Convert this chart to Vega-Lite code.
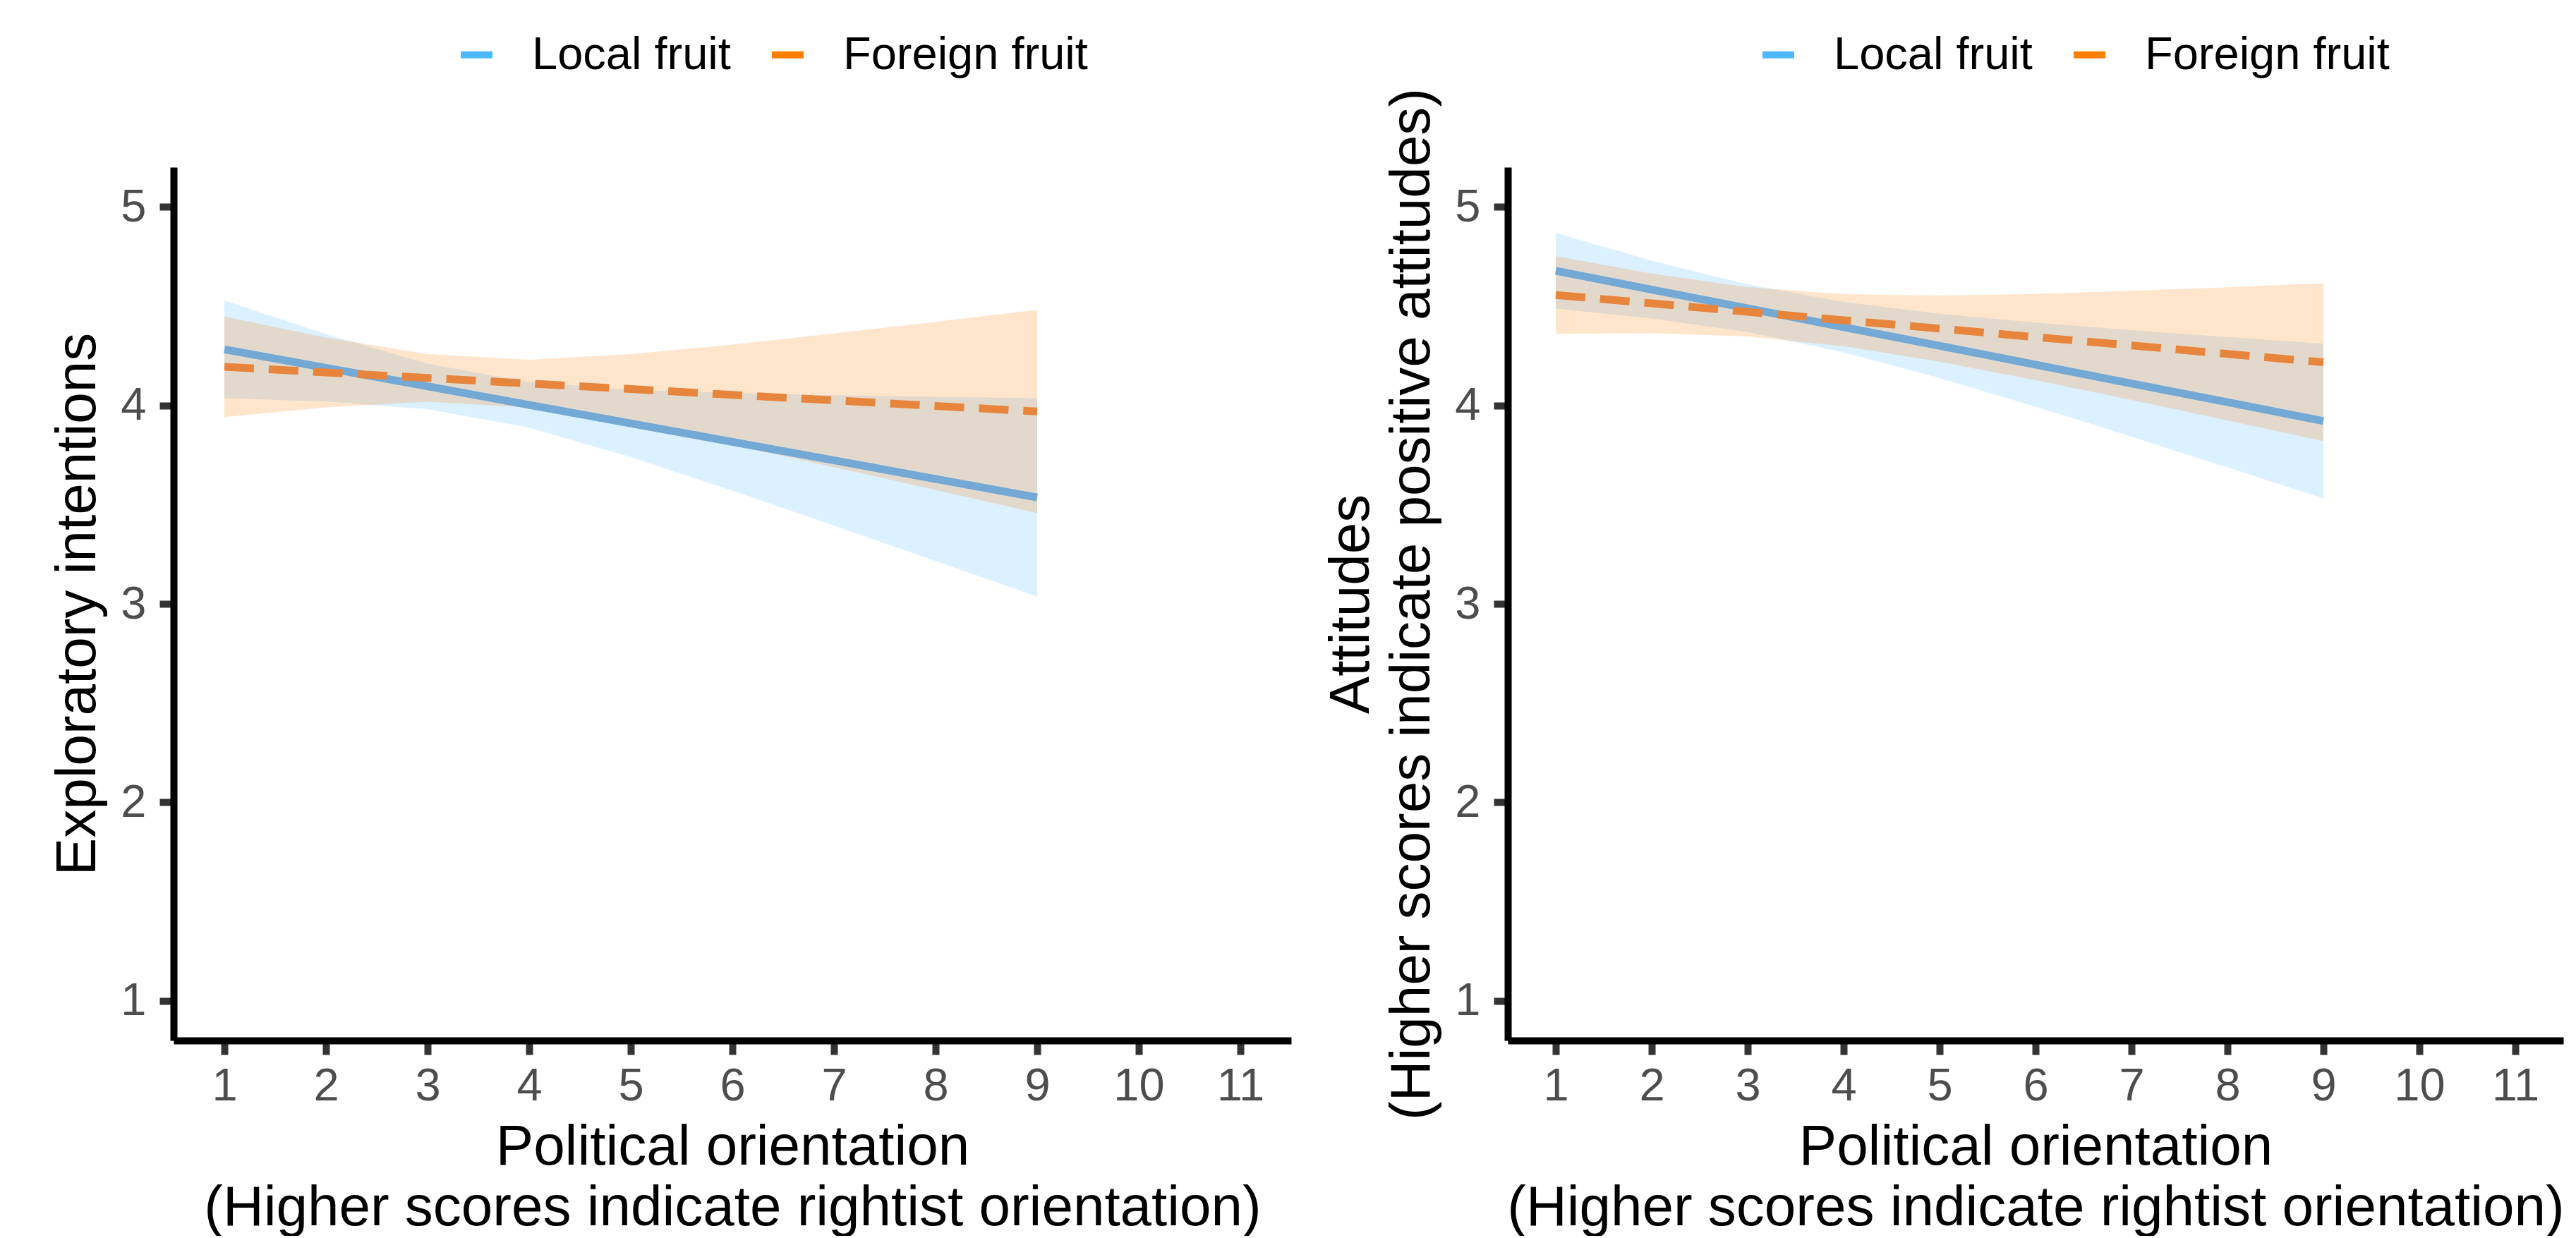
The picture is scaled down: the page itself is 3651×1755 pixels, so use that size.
{
  "$schema": "https://vega.github.io/schema/vega-lite/v6.json",
  "background": "white",
  "padding": {"left": 70, "top": 45, "right": 10, "bottom": 0},
  "config": {
    "font": "Liberation Sans",
    "view": {"stroke": null},
    "axis": {"grid": false, "domainColor": "#000000", "domainWidth": 10, "tickColor": "#333333", "tickWidth": 10, "tickSize": 20, "labelFontSize": 65, "labelColor": "#4D4D4D", "titleFontSize": 80, "titleFontWeight": "normal", "titleColor": "#000000", "labelFont": "Liberation Sans", "titleFont": "Liberation Sans"},
    "legend": {"title": null, "direction": "horizontal", "labelFontSize": 65, "labelLimit": 0, "labelColor": "#000000", "labelFont": "Liberation Sans", "symbolType": "M-1,-0.22L1,-0.22L1,0.22L-1,0.22Z", "symbolSize": 2025, "symbolStrokeWidth": 0, "labelOffset": 46, "columnPadding": 48, "padding": 0, "symbolOpacity": 1}
  },
  "spacing": 45,
  "resolve": {"scale": {"fill": "independent", "stroke": "independent", "strokeDash": "independent"}, "legend": {"fill": "independent"}},
  "hconcat": [
    {
      "width": 1584, "height": 1238,
      "data": {"values": [
        {"group": "Local fruit", "x": 1, "lo": 4.036, "hi": 4.528, "m": 4.282},
        {"group": "Local fruit", "x": 2, "lo": 4.019, "hi": 4.359, "m": 4.189},
        {"group": "Local fruit", "x": 3, "lo": 3.981, "hi": 4.210, "m": 4.096},
        {"group": "Local fruit", "x": 4, "lo": 3.888, "hi": 4.117, "m": 4.002},
        {"group": "Local fruit", "x": 5, "lo": 3.739, "hi": 4.079, "m": 3.909},
        {"group": "Local fruit", "x": 6, "lo": 3.570, "hi": 4.062, "m": 3.816},
        {"group": "Local fruit", "x": 7, "lo": 3.394, "hi": 4.051, "m": 3.723},
        {"group": "Local fruit", "x": 8, "lo": 3.216, "hi": 4.043, "m": 3.629},
        {"group": "Local fruit", "x": 9, "lo": 3.036, "hi": 4.036, "m": 3.536},
        {"group": "Foreign fruit", "x": 1, "lo": 3.941, "hi": 4.447, "m": 4.194},
        {"group": "Foreign fruit", "x": 2, "lo": 3.990, "hi": 4.342, "m": 4.166},
        {"group": "Foreign fruit", "x": 3, "lo": 4.018, "hi": 4.258, "m": 4.138},
        {"group": "Foreign fruit", "x": 4, "lo": 3.989, "hi": 4.230, "m": 4.110},
        {"group": "Foreign fruit", "x": 5, "lo": 3.906, "hi": 4.258, "m": 4.082},
        {"group": "Foreign fruit", "x": 6, "lo": 3.801, "hi": 4.306, "m": 4.053},
        {"group": "Foreign fruit", "x": 7, "lo": 3.689, "hi": 4.362, "m": 4.025},
        {"group": "Foreign fruit", "x": 8, "lo": 3.574, "hi": 4.421, "m": 3.997},
        {"group": "Foreign fruit", "x": 9, "lo": 3.457, "hi": 4.481, "m": 3.969}
      ]},
      "encoding": {
        "x": {"field": "x", "type": "quantitative", "scale": {"domain": [0.5, 11.5], "nice": false, "zero": false},
              "axis": {"values": [1,2,3,4,5,6,7,8,9,10,11], "title": ["Political orientation", "(Higher scores indicate rightist orientation)"], "labelPadding": 13, "titlePadding": 15, "titleLineHeight": 86}}
      },
      "layer": [
        {
          "mark": {"type": "area", "opacity": 0.2},
          "encoding": {
            "y": {"field": "lo", "type": "quantitative", "scale": {"domain": [0.8, 5.2], "nice": false, "zero": false},
                  "axis": {"values": [1,2,3,4,5], "title": "Exploratory intentions", "labelPadding": 19, "titlePadding": 19}},
            "y2": {"field": "hi"},
            "fill": {"field": "group", "type": "nominal", "sort": ["Local fruit", "Foreign fruit"],
                     "scale": {"domain": ["Local fruit", "Foreign fruit"], "range": ["#4DB8FF", "#FF7F00"]},
                     "legend": {"orient": "none", "legendX": 397, "legendY": -192, "encode": {"symbols": {"update": {"opacity": {"value": 1}, "fillOpacity": {"value": 1}}}}}}
          }
        },
        {
          "mark": {"type": "line", "strokeWidth": 11, "strokeCap": "butt"},
          "encoding": {
            "y": {"field": "m", "type": "quantitative", "scale": {"domain": [0.8, 5.2], "nice": false, "zero": false},
                  "axis": {"values": [1,2,3,4,5], "title": "Exploratory intentions", "labelPadding": 19, "titlePadding": 19}},
            "stroke": {"field": "group", "type": "nominal", "scale": {"domain": ["Local fruit", "Foreign fruit"], "range": ["#74A9D6", "#E8853D"]}, "legend": null},
            "strokeDash": {"field": "group", "type": "nominal", "scale": {"domain": ["Local fruit", "Foreign fruit"], "range": [[1, 0], [42, 21]]}, "legend": null}
          }
        }
      ]
    },
    {
      "width": 1496, "height": 1238,
      "data": {"values": [
        {"group": "Local fruit", "x": 1, "lo": 4.487, "hi": 4.869, "m": 4.678},
        {"group": "Local fruit", "x": 2, "lo": 4.438, "hi": 4.729, "m": 4.583},
        {"group": "Local fruit", "x": 3, "lo": 4.369, "hi": 4.609, "m": 4.489},
        {"group": "Local fruit", "x": 4, "lo": 4.267, "hi": 4.521, "m": 4.394},
        {"group": "Local fruit", "x": 5, "lo": 4.137, "hi": 4.462, "m": 4.300},
        {"group": "Local fruit", "x": 6, "lo": 3.993, "hi": 4.417, "m": 4.205},
        {"group": "Local fruit", "x": 7, "lo": 3.842, "hi": 4.379, "m": 4.110},
        {"group": "Local fruit", "x": 8, "lo": 3.687, "hi": 4.344, "m": 4.016},
        {"group": "Local fruit", "x": 9, "lo": 3.531, "hi": 4.311, "m": 3.921},
        {"group": "Foreign fruit", "x": 1, "lo": 4.360, "hi": 4.752, "m": 4.556},
        {"group": "Foreign fruit", "x": 2, "lo": 4.364, "hi": 4.664, "m": 4.514},
        {"group": "Foreign fruit", "x": 3, "lo": 4.347, "hi": 4.596, "m": 4.471},
        {"group": "Foreign fruit", "x": 4, "lo": 4.298, "hi": 4.560, "m": 4.429},
        {"group": "Foreign fruit", "x": 5, "lo": 4.220, "hi": 4.553, "m": 4.387},
        {"group": "Foreign fruit", "x": 6, "lo": 4.127, "hi": 4.561, "m": 4.344},
        {"group": "Foreign fruit", "x": 7, "lo": 4.027, "hi": 4.577, "m": 4.302},
        {"group": "Foreign fruit", "x": 8, "lo": 3.924, "hi": 4.595, "m": 4.259},
        {"group": "Foreign fruit", "x": 9, "lo": 3.819, "hi": 4.615, "m": 4.217}
      ]},
      "encoding": {
        "x": {"field": "x", "type": "quantitative", "scale": {"domain": [0.5, 11.5], "nice": false, "zero": false},
              "axis": {"values": [1,2,3,4,5,6,7,8,9,10,11], "title": ["Political orientation", "(Higher scores indicate rightist orientation)"], "labelPadding": 13, "titlePadding": 15, "titleLineHeight": 86}}
      },
      "layer": [
        {
          "mark": {"type": "area", "opacity": 0.2},
          "encoding": {
            "y": {"field": "lo", "type": "quantitative", "scale": {"domain": [0.8, 5.2], "nice": false, "zero": false},
                  "axis": {"values": [1,2,3,4,5], "title": ["Attitudes", "(Higher scores indicate positive attitudes)"], "labelPadding": 19, "titlePadding": 19, "titleLineHeight": 86}},
            "y2": {"field": "hi"},
            "fill": {"field": "group", "type": "nominal", "sort": ["Local fruit", "Foreign fruit"],
                     "scale": {"domain": ["Local fruit", "Foreign fruit"], "range": ["#4DB8FF", "#FF7F00"]},
                     "legend": {"orient": "none", "legendX": 351, "legendY": -192, "encode": {"symbols": {"update": {"opacity": {"value": 1}, "fillOpacity": {"value": 1}}}}}}
          }
        },
        {
          "mark": {"type": "line", "strokeWidth": 11, "strokeCap": "butt"},
          "encoding": {
            "y": {"field": "m", "type": "quantitative", "scale": {"domain": [0.8, 5.2], "nice": false, "zero": false},
                  "axis": {"values": [1,2,3,4,5], "title": ["Attitudes", "(Higher scores indicate positive attitudes)"], "labelPadding": 19, "titlePadding": 19, "titleLineHeight": 86}},
            "stroke": {"field": "group", "type": "nominal", "scale": {"domain": ["Local fruit", "Foreign fruit"], "range": ["#74A9D6", "#E8853D"]}, "legend": null},
            "strokeDash": {"field": "group", "type": "nominal", "scale": {"domain": ["Local fruit", "Foreign fruit"], "range": [[1, 0], [42, 21]]}, "legend": null}
          }
        }
      ]
    }
  ]
}
